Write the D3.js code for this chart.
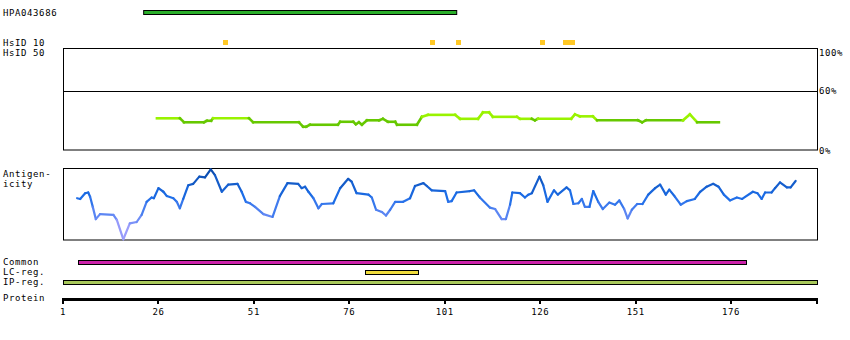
<!DOCTYPE html>
<html>
<head>
<meta charset="utf-8">
<script src="https://cdn.jsdelivr.net/npm/d3@7"></script>
<style>
  body { margin: 0; background: #fff; }
  text { font-family: "DejaVu Sans Mono", monospace; font-size: 9px; letter-spacing: 0.6px; fill: #000; }
</style>
</head>
<body>
<div id="chart"></div>
<script>
// protein length and axis ticks
var proteinEnd = 198.5;
var tickValues = [1, 26, 51, 76, 101, 126, 151, 176];

// antibody / feature tracks [start, end]
var antigen = [22, 104];
var hsid10 = [[43, 44], [97, 98], [104, 105], [126, 127], [132, 135]];
var commonReg = [5, 180];
var lcReg = [80, 94];
var ipReg = [1, proteinEnd];

// HsID 50 identity (%), breakpoints by residue
var identPos = [25.6, 31.6, 32.7, 37.9, 38.7, 39.8, 40.3, 49.7, 50.8, 62.8, 63.9, 64.7, 65.7, 73.0, 73.6, 77.0,
  77.7, 78.5, 79.3, 80.6, 83.8, 84.8, 86.1, 88.0, 88.5, 93.7, 95.0, 96.6, 103.7, 105.0, 109.7, 111.0,
  112.6, 113.6, 119.9, 120.7, 123.8, 124.6, 125.4, 134.1, 135.1, 136.4, 139.8, 140.9, 151.6, 152.7,
  153.7, 163.4, 165.2, 167.1, 172.8];
var identVal = [32, 32, 28, 28, 29.5, 29.5, 32, 32, 28, 28, 23.5, 23.5, 25.5, 25.5, 28.5, 28.5,
  26, 28, 25.5, 30, 30, 31.5, 28.5, 28.5, 25.5, 25.5, 33.5, 35.5, 35.5, 31.5, 31.5, 38,
  38, 33.5, 33.5, 31.5, 31.5, 30, 31.5, 31.5, 36, 34, 34, 30, 30, 28,
  30, 30, 36, 28, 28];

// antigenicity score (normalised), breakpoints by residue
var antiPos = [4.7, 5.5, 6.8, 7.6, 8.1, 8.8, 9.6, 10.7, 14.2, 15.1, 16.8, 18.5, 20.3, 21.6, 22.9, 24.2,
  24.8, 26.0, 27.3, 28.2, 29.9, 30.8, 31.6, 32.5, 33.8, 35.1, 36.7, 38.2, 39.7, 40.8, 42.6, 44.3,
  46.7, 47.8, 48.9, 50.0, 51.3, 53.5, 55.9, 57.8, 59.8, 62.6, 63.5, 64.4, 65.3, 66.6, 67.9, 68.8,
  71.8, 73.6, 75.7, 76.6, 77.9, 81.0, 81.9, 83.0, 84.5, 85.6, 86.7, 88.0, 90.1, 91.9, 93.2, 95.4,
  96.3, 97.6, 101.1, 101.9, 102.8, 104.1, 107.6, 108.7, 110.2, 112.8, 114.2, 115.9, 117.0, 118.1,
  118.7, 120.7, 122.0, 122.9, 123.8, 125.8, 126.8, 127.9, 129.6, 130.6, 132.9, 133.8, 134.7, 136.0,
  136.9, 137.7, 138.9, 139.9, 141.2, 142.4, 144.1, 145.6, 146.7, 148.0, 148.9, 150.0, 151.4, 152.8,
  154.3, 156.1, 157.4, 158.9, 159.8, 161.3, 162.8, 164.4, 166.5, 167.9, 169.6, 171.3, 172.7, 174.1,
  175.7, 177.5, 178.9, 181.7, 182.9, 184.0, 184.9, 186.6, 187.5, 188.8, 190.6, 191.6, 192.9];
var antiVal = [0.58, 0.57, 0.65, 0.66, 0.60, 0.46, 0.29, 0.36, 0.35, 0.28, 0.01, 0.23, 0.25, 0.35, 0.53, 0.59,
  0.58, 0.72, 0.67, 0.61, 0.58, 0.53, 0.44, 0.57, 0.76, 0.78, 0.88, 0.87, 0.98, 0.90, 0.67, 0.77,
  0.78, 0.67, 0.53, 0.51, 0.46, 0.36, 0.32, 0.61, 0.79, 0.78, 0.72, 0.74, 0.67, 0.58, 0.44, 0.50,
  0.51, 0.72, 0.85, 0.81, 0.65, 0.63, 0.59, 0.42, 0.39, 0.34, 0.42, 0.53, 0.53, 0.58, 0.75, 0.79,
  0.75, 0.69, 0.68, 0.53, 0.54, 0.66, 0.68, 0.69, 0.59, 0.45, 0.43, 0.29, 0.29, 0.49,
  0.66, 0.65, 0.59, 0.63, 0.65, 0.88, 0.76, 0.53, 0.69, 0.63, 0.73, 0.69, 0.50, 0.51,
  0.57, 0.46, 0.46, 0.68, 0.53, 0.43, 0.52, 0.49, 0.55, 0.43, 0.30, 0.42, 0.50, 0.50,
  0.63, 0.72, 0.77, 0.63, 0.70, 0.60, 0.49, 0.54, 0.57, 0.67, 0.74, 0.78, 0.74, 0.63,
  0.55, 0.59, 0.57, 0.67, 0.65, 0.57, 0.66, 0.66, 0.72, 0.80, 0.73, 0.73, 0.82];

var width = 850, height = 340;
var svg = d3.select("#chart").append("svg")
    .attr("width", width)
    .attr("height", height);

// residue -> x
var x = d3.scaleLinear().domain([1, proteinEnd]).range([63, 817]);
var yIdent = d3.scaleLinear().domain([0, 100]).range([150, 51]);
var yAnti = d3.scaleLinear().domain([0, 1]).range([240, 168]);
var antiColor = d3.scaleLinear()
    .domain([0, 0.3, 0.6, 1])
    .range(["#bba8ff", "#6c8cf6", "#1c6de8", "#0a48a6"]);

// left labels
var labels = [["HPA043686", 16], ["HsID 10", 45.5], ["HsID 50", 55.5], ["Antigen-", 177], ["icity", 186.5],
  ["Common", 265], ["LC-reg.", 275], ["IP-reg.", 285], ["Protein", 300.5]];
svg.selectAll("text.lab").data(labels).enter().append("text")
    .attr("class", "lab")
    .attr("x", 3).attr("y", d => d[1])
    .text(d => d[0]);

// antigen bar
svg.append("rect")
    .attr("x", x(antigen[0]) + 0.5).attr("y", 10.5)
    .attr("width", x(antigen[1]) - x(antigen[0])).attr("height", 4)
    .attr("fill", "#2aae2a").attr("stroke", "#000");

// HsID 10 markers
svg.selectAll("rect.hs").data(hsid10).enter().append("rect")
    .attr("class", "hs")
    .attr("x", d => Math.round(x(d[0])))
    .attr("y", 40)
    .attr("width", d => Math.round(x(d[1]) - x(d[0])) + 1)
    .attr("height", 5)
    .attr("fill", "#ffc825");

// identity panel
var idG = svg.append("g");
idG.append("rect").attr("x", 63.5).attr("y", 48.5).attr("width", 754).attr("height", 101.5)
    .attr("fill", "none").attr("stroke", "#000");
idG.append("line").attr("x1", 63).attr("x2", 817.5)
    .attr("y1", Math.round(yIdent(60)) + 0.5).attr("y2", Math.round(yIdent(60)) + 0.5)
    .attr("stroke", "#000");
[[100, 56], [60, 94], [0, 153.5]].forEach(function(t) {
  idG.append("text").attr("x", 819).attr("y", t[1]).text(t[0] + "%");
});
var identSegs = d3.range(identPos.length - 1);
idG.selectAll("line.seg").data(identSegs).enter().append("line")
    .attr("class", "seg")
    .attr("x1", i => x(identPos[i])).attr("y1", i => yIdent(identVal[i]))
    .attr("x2", i => x(identPos[i + 1])).attr("y2", i => yIdent(identVal[i + 1]))
    .attr("stroke", i => (identVal[i] + identVal[i + 1]) / 2 > 31 ? "#99f300" : "#66c800")
    .attr("stroke-width", 2.6)
    .attr("stroke-linecap", "square");

// antigenicity panel
var agG = svg.append("g");
agG.append("rect").attr("x", 63.5).attr("y", 168.5).attr("width", 754).attr("height", 71.5)
    .attr("fill", "none").attr("stroke", "#000");
var antiSegs = d3.range(antiPos.length - 1);
agG.selectAll("line.seg").data(antiSegs).enter().append("line")
    .attr("class", "seg")
    .attr("x1", i => x(antiPos[i])).attr("y1", i => yAnti(antiVal[i]))
    .attr("x2", i => x(antiPos[i + 1])).attr("y2", i => yAnti(antiVal[i + 1]))
    .attr("stroke", i => antiColor((antiVal[i] + antiVal[i + 1]) / 2))
    .attr("stroke-width", 2.2)
    .attr("stroke-linecap", "round");

// region bars
var regions = [[commonReg, 260.5, "#cc22aa"], [lcReg, 270.5, "#f0dc3c"], [ipReg, 280.5, "#a8c85a"]];
svg.selectAll("rect.reg").data(regions).enter().append("rect")
    .attr("class", "reg")
    .attr("x", d => Math.round(x(d[0][0])) + 0.5)
    .attr("y", d => d[1])
    .attr("width", d => Math.round(x(d[0][1]) - x(d[0][0])))
    .attr("height", 4)
    .attr("fill", d => d[2])
    .attr("stroke", "#000");

// protein axis
var axG = svg.append("g");
axG.append("rect").attr("x", x(1)).attr("y", 298).attr("width", x(proteinEnd) - x(1)).attr("height", 3)
    .attr("fill", "#000");
axG.selectAll("rect.tk").data(tickValues.concat([proteinEnd])).enter().append("rect")
    .attr("class", "tk")
    .attr("x", d => Math.round(x(d)) - 1).attr("y", 298).attr("width", 2).attr("height", 6)
    .attr("fill", "#000");
axG.selectAll("text.tl").data(tickValues).enter().append("text")
    .attr("class", "tl")
    .attr("x", d => x(d)).attr("y", 315)
    .attr("text-anchor", "middle")
    .text(d => d);
</script>
</body>
</html>
